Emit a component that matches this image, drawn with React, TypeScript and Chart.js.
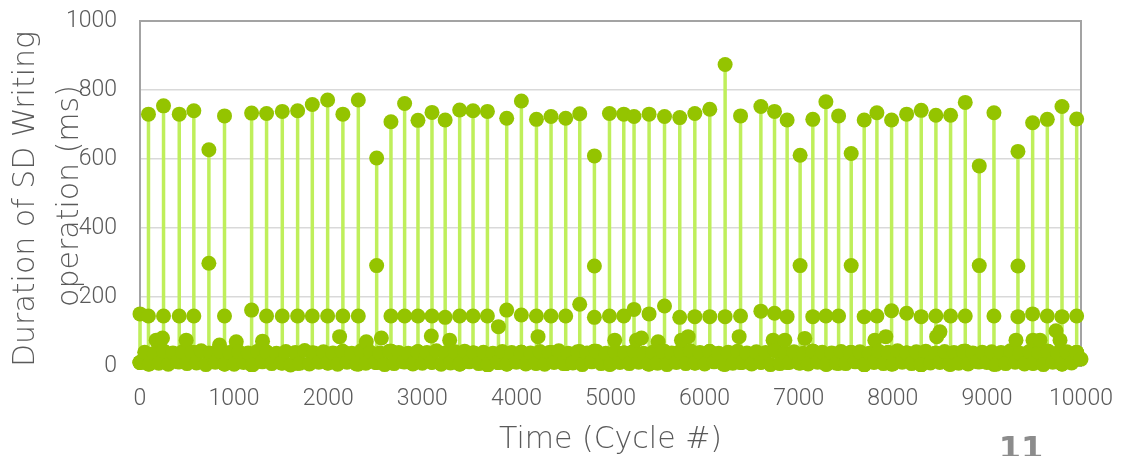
import React, { useEffect, useRef } from "react";
import { Chart, registerables } from "chart.js";

Chart.register(...registerables);

// ---- data ----
const xTitle = "Time (Cycle #)";
const yTitleLines = ["Duration of SD Writing", "operation (ms)"];
const pageNumber = "11";

// high spikes (cycle, ms)
const peakCycles = [
  90, 250, 417, 572, 732, 898, 1186, 1345, 1512, 1675, 1831, 1994, 2156, 2320,
  2515, 2667, 2812, 2954, 3103, 3243, 3397, 3539, 3692, 3897, 4053, 4213, 4368,
  4524, 4673, 4829, 4989, 5141, 5250, 5410, 5574, 5736, 5896, 6055, 6218, 6382,
  6598, 6743, 6877, 7015, 7150, 7289, 7424, 7558, 7696, 7831, 7987, 8147, 8302,
  8458, 8614, 8770, 8919, 9075, 9330, 9486, 9642, 9798, 9954,
];
const peakValues = [
  730, 754, 730, 740, 627, 725, 733, 732, 738, 740, 758, 771, 730, 771,
  603, 708, 761, 712, 735, 713, 742, 740, 738, 718, 768, 715, 723,
  718, 731, 609, 732, 730, 723, 730, 723, 720, 732, 744, 874, 725,
  752, 738, 713, 611, 715, 766, 725, 616, 713, 734, 713, 730, 741,
  727, 727, 764, 580, 734, 622, 705, 715, 752, 716,
];
// the write just before each spike
const stepValues = [
  145, 145, 145, 145, 298, 145, 162, 145, 145, 145, 145, 145, 145, 145,
  291, 145, 145, 145, 145, 141, 145, 145, 145, 162, 148, 145, 145,
  145, 179, 290, 145, 145, 164, 151, 174, 141, 143, 143, 143, 145,
  159, 153, 143, 291, 143, 145, 145, 291, 143, 145, 160, 153, 143,
  145, 145, 145, 291, 145, 290, 151, 145, 143, 145,
];
const lowStepCycles = [4829, 9330];
const lowStepValues = [141, 143];

// isolated single writes
const soloCycles = [0, 3809];
const soloValues = [151, 114];

// medium bumps above the dense band
const bumpCycles = [
  172, 239, 491, 845, 1023, 1302, 2121, 2405, 2565, 3096, 3291, 4230, 5045,
  5276, 5329, 5506, 5754, 5825, 6367, 6728, 6853, 7065, 7809, 7926, 8466,
  8501, 9309, 9490, 9564, 9734, 9777,
];
const bumpValues = [
  75, 81, 75, 61, 70, 72, 85, 70, 81, 87, 75, 85, 75,
  75, 81, 70, 75, 85, 85, 75, 75, 80, 75, 85, 85,
  99, 75, 75, 75, 102, 75,
];

// dense band of normal writes, one value every 50 cycles
const baseStep = 50;
const baseValues = [
  10, 40, 6, 37, 8, 43, 5, 38, 12, 41, 7, 39, 9, 44, 4, 37, 11, 42, 6, 39,
  5, 41, 10, 38, 4, 43, 12, 40, 7, 37, 9, 42, 3, 39, 8, 45, 6, 38, 11, 41,
  9, 38, 5, 42, 11, 37, 6, 44, 8, 40, 10, 38, 4, 43, 7, 39, 12, 37, 6, 41,
  8, 39, 11, 44, 5, 37, 9, 41, 6, 43, 12, 38, 7, 40, 4, 37, 10, 42, 6, 39,
  11, 40, 6, 38, 8, 42, 5, 39, 10, 44, 7, 37, 9, 41, 4, 38, 12, 43, 7, 37,
  5, 41, 10, 38, 7, 43, 11, 37, 6, 40, 8, 42, 4, 38, 10, 41, 7, 44, 9, 39,
  6, 42, 12, 37, 5, 40, 8, 43, 10, 38, 6, 41, 11, 39, 4, 45, 7, 38, 10, 41,
  9, 37, 6, 43, 11, 40, 5, 38, 8, 42, 7, 39, 12, 41, 4, 37, 10, 43, 7, 40,
  6, 44, 11, 38, 7, 41, 4, 43, 9, 37, 10, 42, 5, 39, 8, 43, 6, 38, 12, 40,
  10, 41, 5, 39, 7, 44, 11, 37, 6, 42, 8, 40, 4, 43, 11, 38, 6, 41, 9, 39,
  20,
];

const xMin = 0;
const xMax = 10000;
const xStep = 1000;
const yMin = 0;
const yMax = 1000;
const yStep = 200;

type Pt = { x: number; y: number | null };

function baseAt(c: number) {
  const i = Math.min(baseValues.length - 1, Math.max(0, Math.round(c / baseStep)));
  return baseValues[i];
}

// stems: each burst of slow writes, separated by gaps
function buildStems(): Pt[] {
  const pts: Pt[] = [];
  const groups: { c: number; seq: number[] }[] = [];
  peakCycles.forEach((c, i) => {
    const seq: number[] = [];
    const li = lowStepCycles.indexOf(c);
    if (li >= 0) seq.push(lowStepValues[li]);
    seq.push(stepValues[i], peakValues[i]);
    groups.push({ c, seq });
  });
  soloCycles.forEach((c, i) => groups.push({ c, seq: [soloValues[i]] }));
  groups.sort((a, b) => a.c - b.c);
  groups.forEach(({ c, seq }) => {
    const b = baseAt(c);
    pts.push({ x: c - 0.5, y: b });
    seq.forEach((v, k) => pts.push({ x: c - (seq.length - 1 - k) * 0.2, y: v }));
    pts.push({ x: c + 0.5, y: b });
    pts.push({ x: c + 0.6, y: null });
  });
  return pts;
}

// dense band of fast writes plus the medium bumps
function buildBand(): Pt[] {
  const pts: Pt[] = baseValues.map((v, i) => ({ x: i * baseStep, y: v }));
  bumpCycles.forEach((c, i) => pts.push({ x: c, y: bumpValues[i] }));
  pts.sort((a, b) => a.x - b.x);
  return pts;
}

const TICK_FONT = { family: "Roboto", size: 23, weight: 300 as any };
const TEXT_COLOR = "#5a5a5a";
const DOT = "#94C400";
const STEM = "#BFEF5B";

const decorPlugin = {
  id: "decor",
  beforeDatasetsDraw(chart: any) {
    const { ctx, chartArea } = chart;
    ctx.save();
    ctx.strokeStyle = "#A3A3A3";
    ctx.lineWidth = 2;
    ctx.strokeRect(
      chartArea.left,
      chartArea.top,
      chartArea.right - chartArea.left,
      chartArea.bottom - chartArea.top
    );
    ctx.restore();
  },
  afterDraw(chart: any) {
    const ctx = chart.ctx;
    const area = chart.chartArea;
    ctx.save();
    ctx.fillStyle = TEXT_COLOR;
    ctx.font = '300 30px "DejaVu Sans"';
    ctx.textAlign = "center";
    ctx.textBaseline = "alphabetic";
    ctx.fillText(xTitle, (area.left + area.right) / 2, 448);

    ctx.save();
    ctx.translate(34, 199);
    ctx.rotate(-Math.PI / 2);
    ctx.fillText(yTitleLines[0], 0, 0);
    ctx.restore();

    ctx.save();
    ctx.translate(78, 196);
    ctx.rotate(-Math.PI / 2);
    ctx.fillText(yTitleLines[1], 0, 0);
    ctx.restore();

    ctx.fillStyle = "#8C8C8C";
    ctx.font = 'bold 32px "DejaVu Sans"';
    ctx.fillText(pageNumber, 1021, 459);
    ctx.restore();
  },
};

const zeroPad = (s: any) => {
  s.paddingTop = 0;
  s.paddingBottom = 0;
  s.paddingLeft = 0;
  s.paddingRight = 0;
};

export default function App() {
  const ref = useRef<HTMLCanvasElement | null>(null);

  useEffect(() => {
    if (!ref.current) return;
    const chart = new Chart(ref.current, {
      type: "line",
      data: {
        datasets: [
          {
            label: "band",
            data: buildBand() as any,
            showLine: false,
            pointRadius: 7.5,
            pointHoverRadius: 7.5,
            pointBackgroundColor: DOT,
            pointBorderWidth: 0,
            borderColor: DOT,
            clip: false as any,
          },
          {
            label: "stems",
            data: buildStems() as any,
            borderColor: STEM,
            borderWidth: 3.5,
            pointRadius: 7.5,
            pointHoverRadius: 7.5,
            pointBackgroundColor: DOT,
            pointBorderWidth: 0,
            tension: 0,
            spanGaps: false,
            clip: false as any,
          },
        ],
      },
      options: {
        animation: false,
        responsive: false,
        devicePixelRatio: 1,
        layout: { padding: { left: 0, right: 51, top: 21, bottom: 0 } },
        plugins: {
          legend: { display: false },
          tooltip: { enabled: false },
        },
        events: [],
        scales: {
          x: {
            type: "linear",
            min: xMin,
            max: xMax,
            ticks: {
              stepSize: xStep,
              autoSkip: false,
              maxRotation: 0,
              padding: 19,
              color: TEXT_COLOR,
              font: TICK_FONT,
              callback: (v: any) => String(v),
            },
            grid: { display: false, drawTicks: false },
            border: { display: false },
            afterFit: (s: any) => {
              s.height = 90;
              zeroPad(s);
            },
          },
          y: {
            type: "linear",
            min: yMin,
            max: yMax,
            ticks: {
              stepSize: yStep,
              padding: 23,
              color: TEXT_COLOR,
              font: TICK_FONT,
              callback: (v: any) => String(v),
            },
            grid: {
              drawTicks: false,
              lineWidth: 1.5,
              color: (c: any) =>
                c.tick && (c.tick.value === yMin || c.tick.value === yMax)
                  ? "rgba(0,0,0,0)"
                  : "#D9D9D9",
            },
            border: { display: false },
            afterFit: (s: any) => {
              s.width = 140;
              zeroPad(s);
            },
          },
        },
      },
      plugins: [decorPlugin],
    });
    return () => chart.destroy();
  }, []);

  return (
    <div style={{ position: "absolute", left: 0, top: 0, width: 1132, height: 456, background: "#fff" }}>
      <canvas ref={ref} width={1132} height={456} style={{ width: 1132, height: 456, display: "block" }} />
    </div>
  );
}
